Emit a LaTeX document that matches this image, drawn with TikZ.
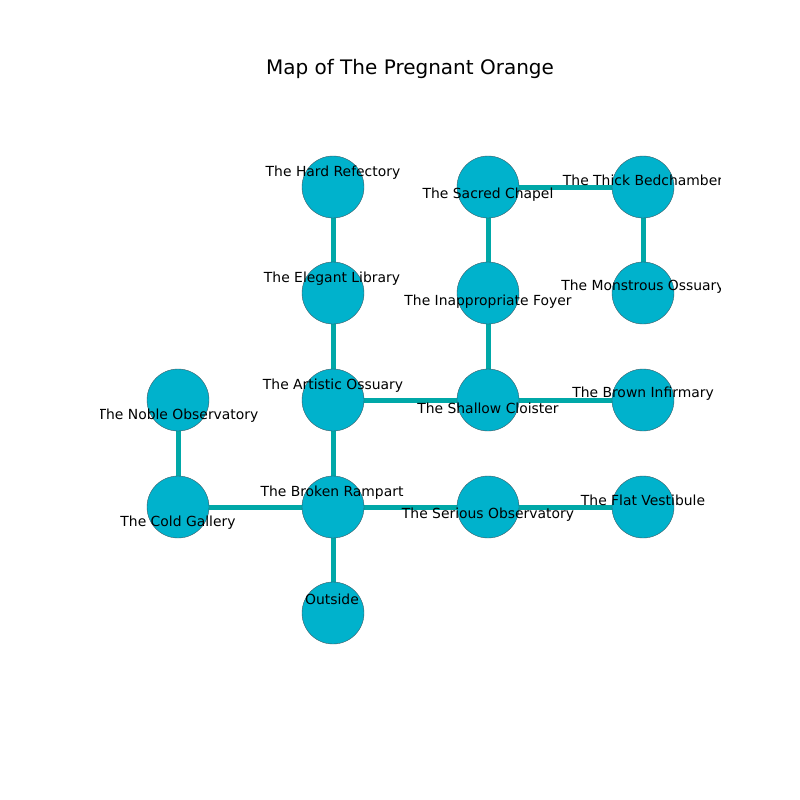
\documentclass[tikz,border=0pt]{standalone}
\usepackage{fontspec}
\setmainfont{DejaVu Sans}
\usetikzlibrary{backgrounds}
\definecolor{nodefill}{RGB}{0,178,204}
\definecolor{edgecol}{RGB}{0,168,168}
\definecolor{nodeline}{RGB}{60,90,100}
\tikzset{
  room/.style={circle, fill=nodefill, draw=nodeline, line width=0.4pt, minimum size=62pt, inner sep=0pt},
  link/.style={edgecol, line width=5pt},
  lab/.style={font=\fontsize{13.9}{16}\selectfont, inner sep=0pt, anchor=center, text=black, yshift=-2pt}
}
\begin{document}
\begin{tikzpicture}[x=1pt,y=-1pt]
\useasboundingbox (0,0) rectangle (800,800);
\node[font=\fontsize{20}{24}\selectfont] (title) at (410,69) {Map of The Pregnant Orange};
% rooms
\node[room] (hard) at (333,187) {};
\node[room] (elegant) at (333,293) {};
\node[room] (artistic) at (333,400) {};
\node[room] (broken) at (333,507) {};
\node[room] (outside) at (333,613) {};
\node[room] (noble) at (178,400) {};
\node[room] (cold) at (178,507) {};
\node[room] (sacred) at (488,187) {};
\node[room] (foyer) at (488,293) {};
\node[room] (shallow) at (488,400) {};
\node[room] (serious) at (488,507) {};
\node[room] (thick) at (643,187) {};
\node[room] (monstrous) at (643,293) {};
\node[room] (brown) at (643,400) {};
\node[room] (flat) at (643,507) {};
\begin{scope}[on background layer]
\draw[link] (hard.center) -- (elegant.center);
\draw[link] (elegant.center) -- (artistic.center);
\draw[link] (artistic.center) -- (broken.center);
\draw[link] (artistic.center) -- (shallow.center);
\draw[link] (broken.center) -- (outside.center);
\draw[link] (broken.center) -- (cold.center);
\draw[link] (broken.center) -- (serious.center);
\draw[link] (serious.center) -- (flat.center);
\draw[link] (noble.center) -- (cold.center);
\draw[link] (shallow.center) -- (brown.center);
\draw[link] (shallow.center) -- (foyer.center);
\draw[link] (foyer.center) -- (sacred.center);
\draw[link] (sacred.center) -- (thick.center);
\draw[link] (thick.center) -- (monstrous.center);
\end{scope}
\begin{scope}
\clip (100,96) rectangle (720,712);
\node[lab] (lhard) at (333,171) {The Hard Refectory};
\node[lab] (lelegant) at (332,277) {The Elegant Library};
\node[lab] (lartistic) at (333,384) {The Artistic Ossuary};
\node[lab] (lbroken) at (332,491) {The Broken Rampart};
\node[lab] (loutside) at (332,597) {Outside};
\node[lab] (lnoble) at (178,414) {The Noble Observatory};
\node[lab] (lcold) at (178,521) {The Cold Gallery};
\node[lab] (lsacred) at (488,193) {The Sacred Chapel};
\node[lab] (lfoyer) at (488,300) {The Inappropriate Foyer};
\node[lab] (lshallow) at (488,406) {The Shallow Cloister};
\node[lab] (lserious) at (488,513) {The Serious Observatory};
\node[lab] (lthick) at (643,178) {The Thick Bedchamber};
\node[lab] (lmonstrous) at (643,285) {The Monstrous Ossuary};
\node[lab] (lbrown) at (643,392) {The Brown Infirmary};
\node[lab] (lflat) at (643,498) {The Flat Vestibule};
\end{scope}
\end{tikzpicture}
\end{document}
